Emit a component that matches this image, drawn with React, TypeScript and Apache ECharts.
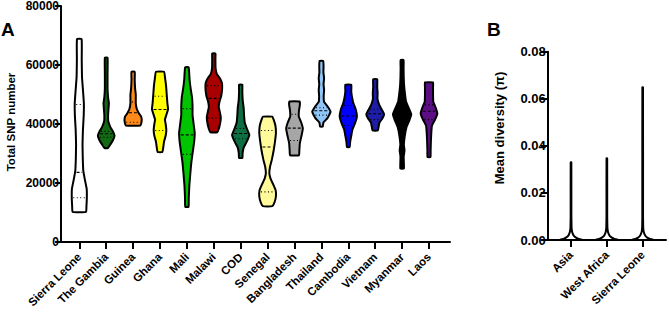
import React, { useEffect, useRef } from "react";
import * as echarts from "echarts";

// ---------- Panel A data ----------
const countries = [
  "Sierra Leone", "The Gambia", "Guinea", "Ghana", "Mali", "Malawi", "COD",
  "Senegal", "Bangladesh", "Thailand", "Cambodia", "Vietnam", "Myanmar", "Laos",
];

const countryColors = [
  "#ffffff", "#136813", "#ff8a1c", "#ffff00", "#00c400", "#a80000", "#0d6e42",
  "#fffb9b", "#a6a6a6", "#8fc6f7", "#0000ff", "#1d1da8", "#000000", "#5c0e85",
];

// density profiles: [total SNP number, relative half width]
const slProfile = [[10230, 0.5], [12000, 0.53], [15000, 0.56], [18000, 0.55], [21000, 0.42], [24000, 0.3], [28000, 0.26], [33000, 0.24], [38000, 0.27], [43000, 0.33], [47000, 0.34], [51000, 0.28], [56000, 0.2], [62000, 0.18], [68800, 0.17]];
const gambiaProfile = [[31800, 0.12], [33000, 0.3], [34500, 0.5], [36000, 0.62], [37500, 0.5], [39000, 0.3], [41000, 0.15], [43000, 0.14], [45000, 0.17], [47000, 0.2], [49000, 0.14], [52000, 0.1], [57000, 0.1], [62500, 0.1]];
const guineaProfile = [[39500, 0.55], [40500, 0.62], [41500, 0.64], [42500, 0.6], [43500, 0.45], [45000, 0.28], [47000, 0.2], [50000, 0.2], [52000, 0.15], [55000, 0.12], [57700, 0.12]];
const ghanaProfile = [[30500, 0.18], [32000, 0.24], [34000, 0.3], [36000, 0.42], [38000, 0.47], [40000, 0.42], [41500, 0.37], [43500, 0.5], [45000, 0.6], [47000, 0.55], [50000, 0.5], [53000, 0.45], [55500, 0.38], [57700, 0.3]];
const maliProfile = [[11900, 0.12], [15000, 0.14], [19000, 0.18], [23000, 0.25], [27000, 0.33], [31000, 0.45], [34000, 0.54], [37000, 0.58], [40000, 0.5], [43000, 0.42], [46000, 0.42], [49000, 0.38], [52000, 0.28], [55000, 0.2], [59200, 0.13]];
const malawiProfile = [[37200, 0.25], [38500, 0.38], [40500, 0.48], [42300, 0.52], [44000, 0.45], [45700, 0.37], [47500, 0.42], [49500, 0.55], [52000, 0.62], [54000, 0.6], [55500, 0.45], [57000, 0.22], [59000, 0.13], [62000, 0.12], [63900, 0.12]];
const codProfile = [[28500, 0.13], [30000, 0.14], [32000, 0.22], [34000, 0.45], [36300, 0.64], [38500, 0.45], [40500, 0.3], [43000, 0.25], [45500, 0.22], [48000, 0.15], [51000, 0.12], [53300, 0.12]];
const senegalProfile = [[12150, 0.35], [13500, 0.52], [15500, 0.62], [17500, 0.6], [19500, 0.42], [21500, 0.22], [23300, 0.13], [25500, 0.18], [28000, 0.32], [31000, 0.45], [34000, 0.55], [37000, 0.62], [39500, 0.58], [41500, 0.45], [42500, 0.35]];
const bangladeshProfile = [[29400, 0.33], [31000, 0.36], [33500, 0.4], [36000, 0.52], [38500, 0.62], [40500, 0.5], [42500, 0.32], [44500, 0.33], [46500, 0.4], [47600, 0.38]];
const thailandProfile = [[39150, 0.1], [40500, 0.15], [42000, 0.45], [44200, 0.68], [46000, 0.45], [47500, 0.2], [49500, 0.17], [51500, 0.2], [53500, 0.16], [55500, 0.2], [57500, 0.15], [59500, 0.16], [61400, 0.13]];
const cambodiaProfile = [[32200, 0.1], [34000, 0.14], [36000, 0.22], [38000, 0.3], [40000, 0.48], [42500, 0.64], [45000, 0.55], [47000, 0.38], [49000, 0.28], [51000, 0.22], [53300, 0.22]];
const vietnamProfile = [[37800, 0.2], [39000, 0.25], [40500, 0.32], [42000, 0.55], [43300, 0.66], [44800, 0.5], [46500, 0.3], [48500, 0.17], [50500, 0.18], [52500, 0.15], [55200, 0.15]];
const myanmarProfile = [[24900, 0.13], [27000, 0.13], [29000, 0.12], [31000, 0.18], [33000, 0.13], [36000, 0.2], [39000, 0.33], [41500, 0.56], [43300, 0.68], [45000, 0.53], [47500, 0.3], [50000, 0.22], [53000, 0.15], [56000, 0.12], [59000, 0.11], [61700, 0.11]];
const laosProfile = [[28800, 0.11], [31000, 0.12], [34000, 0.14], [37000, 0.17], [39500, 0.22], [41500, 0.45], [43500, 0.62], [45500, 0.5], [47500, 0.32], [50000, 0.3], [52500, 0.3], [54100, 0.3]];

const countryProfiles = [
  slProfile, gambiaProfile, guineaProfile, ghanaProfile, maliProfile, malawiProfile, codProfile,
  senegalProfile, bangladeshProfile, thailandProfile, cambodiaProfile, vietnamProfile, myanmarProfile, laosProfile,
];

// [Q1, median, Q3]
const countryQuartiles = [
  [15000, 23600, 46600], [35500, 36700, 37500], [40600, 43800, 47500], [37800, 44900, 49400],
  [29700, 36300, 45200], [42000, 48700, 53000], [35000, 36800, 38500], [17000, 32200, 37800],
  [34400, 38600, 43300], [43000, 44500, 45500], [39500, 42700, 46300], [41500, 43500, 45000],
  [41000, 43000, 45000], [41500, 44300, 46500],
];

const snpTicks = [0, 20000, 40000, 60000, 80000];

// ---------- Panel B data ----------
const regions = ["Asia", "West Africa", "Sierra Leone"];
const asiaDiv = [[0, 0.64], [0.0005, 0.42], [0.001, 0.28], [0.0018, 0.16], [0.0028, 0.09], [0.004, 0.05], [0.0055, 0.03], [0.01, 0.02], [0.033, 0.018]];
const westAfricaDiv = [[0, 0.64], [0.0005, 0.42], [0.001, 0.28], [0.0018, 0.16], [0.0028, 0.09], [0.004, 0.05], [0.0055, 0.03], [0.01, 0.02], [0.0347, 0.018]];
const sierraLeoneDiv = [[0, 0.62], [0.0005, 0.4], [0.001, 0.26], [0.0018, 0.15], [0.0028, 0.085], [0.004, 0.045], [0.0055, 0.028], [0.01, 0.02], [0.0649, 0.018]];
const regionProfiles = [asiaDiv, westAfricaDiv, sierraLeoneDiv];
const diversityTicks = [0, 0.02, 0.04, 0.06, 0.08];

const FONT = "'Liberation Sans', Arial, Helvetica, sans-serif";

function widthAt(prof: number[][], v: number): number {
  for (let k = 0; k < prof.length - 1; k++) {
    const a = prof[k], b = prof[k + 1];
    if (v >= a[0] && v <= b[0]) {
      const t = (v - a[0]) / (b[0] - a[0] || 1);
      return a[1] + t * (b[1] - a[1]);
    }
  }
  return 0;
}

function violinRenderer(profiles: number[][][], fills: string[], quarts: number[][] | null, smooth: number) {
  return (params: any, api: any) => {
    const i = api.value(0);
    const prof = profiles[i];
    const cx = api.coord([i, prof[0][0]])[0];
    const half = api.size([1, 0])[0] / 2;
    const right = prof.map((p) => [cx + p[1] * half, api.coord([i, p[0]])[1]]);
    const left = prof.slice().reverse().map((p) => [cx - p[1] * half, api.coord([i, p[0]])[1]]);
    const children: any[] = [
      {
        type: "polygon",
        shape: { points: right.concat(left), smooth },
        style: { fill: fills[i], stroke: "#000", lineWidth: 2, lineJoin: "round" },
      },
    ];
    if (quarts) {
      quarts[i].forEach((q, k) => {
        const w = widthAt(prof, q) * half - 1.5;
        if (w <= 0.5) return;
        const y = api.coord([i, q])[1];
        children.push({
          type: "line",
          shape: { x1: cx - w, y1: y, x2: cx + w, y2: y },
          style: {
            stroke: "#000",
            lineWidth: 1.1,
            lineDash: k === 1 ? [3, 2] : [1, 2.5],
          },
        });
      });
    }
    return { type: "group", children };
  };
}

export default function App() {
  const ref = useRef<HTMLDivElement>(null);
  useEffect(() => {
    if (!ref.current) return;
    const chart = echarts.init(ref.current, null, { renderer: "svg" });
    const axisLineStyle = { color: "#000", width: 2 };
    const boldLabel = { color: "#000", fontWeight: "bold" as const, fontFamily: FONT };
    const option: any = {
      animation: false,
      backgroundColor: "#fff",
      grid: [
        { left: 61, top: 6, width: 389, height: 236, containLabel: false, outerBoundsMode: "none" },
        { left: 65.85, top: 6, width: 376.6, height: 236, containLabel: false, outerBoundsMode: "none" },
        { left: 547.7, top: 51.7, width: 118.3, height: 188.3, containLabel: false, outerBoundsMode: "none" },
        { left: 553.1, top: 51.7, width: 107.5, height: 188.3, containLabel: false, outerBoundsMode: "none" },
      ],
      xAxis: [
        {
          gridIndex: 0, type: "value", min: 0, max: 1,
          axisLine: { show: true, lineStyle: axisLineStyle },
          axisTick: { show: false }, axisLabel: { show: false }, splitLine: { show: false },
        },
        {
          gridIndex: 1, type: "category", data: countries, boundaryGap: true,
          axisLine: { show: false },
          axisTick: { show: true, alignWithLabel: true, length: 7, lineStyle: { color: "#000", width: 2 } },
          axisLabel: { ...boldLabel, fontSize: 11.5, rotate: 45, interval: 0, margin: 13 },
          splitLine: { show: false },
        },
        {
          gridIndex: 2, type: "value", min: 0, max: 1,
          axisLine: { show: true, lineStyle: axisLineStyle },
          axisTick: { show: false }, axisLabel: { show: false }, splitLine: { show: false },
        },
        {
          gridIndex: 3, type: "category", data: regions, boundaryGap: true,
          axisLine: { show: false },
          axisTick: { show: true, alignWithLabel: true, length: 7, lineStyle: { color: "#000", width: 2 } },
          axisLabel: { ...boldLabel, fontSize: 11.5, rotate: 45, interval: 0, margin: 13 },
          splitLine: { show: false },
        },
      ],
      yAxis: [
        {
          gridIndex: 0, type: "value",
          min: snpTicks[0], max: snpTicks[snpTicks.length - 1], interval: snpTicks[1] - snpTicks[0],
          axisLine: { show: true, lineStyle: axisLineStyle },
          axisTick: { show: true, length: 6, lineStyle: { color: "#000", width: 2 } },
          axisLabel: { ...boldLabel, fontSize: 12, margin: 2, formatter: (v: number) => String(v) },
          splitLine: { show: false },
        },
        {
          gridIndex: 1, type: "value", show: false,
          min: snpTicks[0], max: snpTicks[snpTicks.length - 1],
          splitLine: { show: false },
        },
        {
          gridIndex: 2, type: "value",
          min: diversityTicks[0], max: diversityTicks[diversityTicks.length - 1], interval: diversityTicks[1] - diversityTicks[0],
          axisLine: { show: true, lineStyle: axisLineStyle },
          axisTick: { show: true, length: 7, lineStyle: { color: "#000", width: 2 } },
          axisLabel: { ...boldLabel, fontSize: 13, margin: 2, formatter: (v: number) => v.toFixed(2) },
          splitLine: { show: false },
        },
        {
          gridIndex: 3, type: "value", show: false,
          min: diversityTicks[0], max: diversityTicks[diversityTicks.length - 1],
          splitLine: { show: false },
        },
      ],
      series: [
        {
          type: "custom",
          xAxisIndex: 1, yAxisIndex: 1,
          data: countries.map((_, i) => [i, 0]),
          renderItem: violinRenderer(countryProfiles, countryColors, countryQuartiles, 0.12),
          clip: false,
          silent: true,
        },
        {
          type: "custom",
          xAxisIndex: 3, yAxisIndex: 3,
          data: regions.map((_, i) => [i, 0]),
          renderItem: violinRenderer(regionProfiles, regions.map(() => "#ffffff"), null, 0.1),
          clip: false,
          silent: true,
        },
      ],
      graphic: [
        {
          type: "text", x: 1, y: 29.5,
          style: { text: "A", fontSize: 19, fontWeight: "bold", fontFamily: FONT, fill: "#000", align: "left", verticalAlign: "middle" },
        },
        {
          type: "text", x: 487, y: 29.5,
          style: { text: "B", fontSize: 19, fontWeight: "bold", fontFamily: FONT, fill: "#000", align: "left", verticalAlign: "middle" },
        },
        {
          type: "text", x: 10.5, y: 122, rotation: Math.PI / 2,
          style: { text: "Total SNP number", fontSize: 11.5, fontWeight: "bold", fontFamily: FONT, fill: "#000", align: "center", verticalAlign: "middle" },
        },
        {
          type: "text", x: 499, y: 128, rotation: Math.PI / 2,
          style: { text: "Mean diversity (π)", fontSize: 13, fontWeight: "bold", fontFamily: FONT, fill: "#000", align: "center", verticalAlign: "middle" },
        },
      ],
    };
    chart.setOption(option);
    return () => chart.dispose();
  }, []);
  return (
    <div
      ref={ref}
      style={{ position: "fixed", left: 0, top: 0, width: 669, height: 312, background: "#fff" }}
    />
  );
}
